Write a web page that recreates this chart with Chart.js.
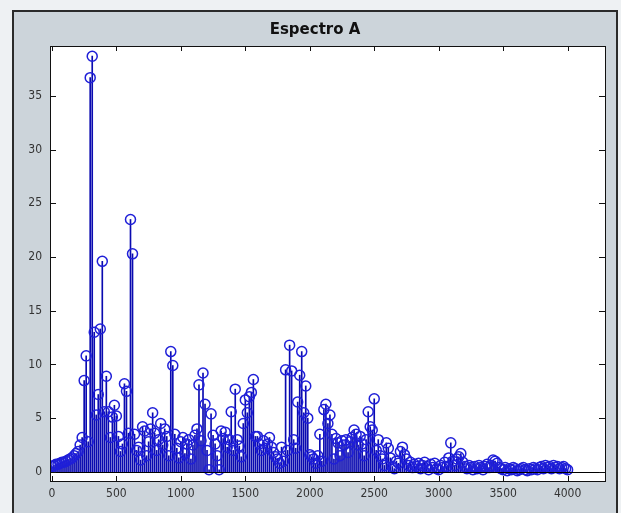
<!DOCTYPE html>
<html>
<head>
<meta charset="utf-8">
<script src="https://cdn.jsdelivr.net/npm/chart.js@4"></script>
<style>
  html, body { margin: 0; padding: 0; width: 621px; height: 513px; overflow: hidden; background: #eef1f3; }
  #frame {
    position: absolute; left: 12px; top: 10px;
    width: 602px; height: 503px;
    border: 2px solid #2a2a2a; border-bottom: none;
    background: #ccd4da;
  }
  #frame canvas { position: absolute; left: 0; top: 0; }
</style>
</head>
<body>
<div id="frame"><canvas id="spectrum" width="602" height="501"></canvas></div>
<script>
// spectrum bins, 0..4000 Hz
const binWidth = 15.625;
const amplitudes = [
  0.5, 0.6, 0.7, 0.7, 0.8, 0.9, 0.9, 1.0, 1.1, 1.2, 1.3, 1.5, 1.7, 1.9, 2.5, 3.2,
  8.5, 10.8, 2.8, 36.7, 38.7, 13.0, 5.3, 7.2, 13.3, 19.6, 5.6, 8.9, 5.6, 3.2, 5.1, 6.2,
  5.2, 3.3, 1.9, 2.6, 8.2, 7.5, 3.6, 23.5, 20.3, 3.5, 2.0, 2.3, 1.1, 4.2, 3.8, 1.5,
  2.8, 4.0, 5.5, 3.6, 2.0, 3.0, 4.5, 2.5, 4.0, 3.3, 1.5, 11.2, 9.9, 3.5, 2.2, 1.3,
  2.8, 3.2, 1.7, 2.6, 3.0, 1.2, 2.5, 3.4, 4.0, 8.1, 2.9, 9.2, 6.3, 2.0, 0.2, 5.4,
  3.4, 2.6, 1.5, 0.2, 3.8, 3.1, 3.7, 2.3, 3.0, 5.6, 2.0, 7.7, 3.0, 2.4, 1.4, 4.5,
  6.7, 5.5, 7.0, 7.4, 8.6, 3.3, 3.3, 2.6, 2.0, 2.9, 2.2, 2.6, 3.2, 2.3, 1.8, 1.4,
  1.2, 0.8, 2.3, 1.0, 9.5, 2.0, 11.8, 9.4, 3.0, 2.2, 6.5, 9.0, 11.2, 5.5, 8.0, 5.0,
  1.6, 1.4, 1.2, 0.8, 1.5, 3.5, 1.0, 5.8, 6.3, 4.5, 5.3, 3.5, 1.2, 3.1, 2.7, 1.5,
  2.9, 2.5, 3.0, 1.8, 2.8, 3.2, 3.9, 3.5, 2.5, 3.3, 2.6, 1.5, 3.0, 5.6, 4.2, 3.9,
  6.8, 2.0, 3.0, 1.5, 1.2, 0.6, 2.7, 2.2, 1.3, 0.5, 0.3, 1.0, 0.8, 1.9, 2.3, 1.6,
  1.2, 0.6, 0.9, 0.4, 0.7, 0.5, 0.8, 0.3, 0.6, 0.9, 0.5, 0.2, 0.7, 0.4, 0.8, 0.3,
  0.2, 0.6, 0.4, 0.9, 0.5, 1.3, 2.7, 1.0, 0.6, 1.2, 1.4, 1.7, 0.9, 0.5, 0.3, 0.6,
  0.4, 0.2, 0.5, 0.3, 0.6, 0.4, 0.2, 0.5, 0.7, 0.4, 0.6, 1.1, 1.0, 0.8, 0.4, 0.3,
  0.2, 0.4, 0.1, 0.3, 0.2, 0.4, 0.3, 0.1, 0.2, 0.3, 0.4, 0.2, 0.1, 0.3, 0.2, 0.4,
  0.3, 0.2, 0.4, 0.5, 0.3, 0.6, 0.4, 0.5, 0.3, 0.6, 0.4, 0.5, 0.3, 0.4, 0.5, 0.3,
  0.2
];
const xTicks = [0, 500, 1000, 1500, 2000, 2500, 3000, 3500, 4000];
const yTicks = [0, 5, 10, 15, 20, 25, 30, 35];

const points = amplitudes.map((a, i) => ({ x: i * binWidth, y: a }));

const tickFont = { family: "'Liberation Sans Narrow', 'DejaVu Sans Condensed', sans-serif", size: 12 };

// white plot box, zero baseline, box outline and inward ticks like matlab
const axesBox = {
  id: "axesBox",
  beforeDraw(chart) {
    const { ctx, chartArea: a } = chart;
    ctx.save();
    ctx.fillStyle = "#fff";
    ctx.fillRect(a.left, a.top, a.right - a.left, a.bottom - a.top);
    ctx.restore();
  },
  afterDatasetsDraw(chart) {
    const { ctx, chartArea: a, scales } = chart;
    const y0 = Math.round(scales.y.getPixelForValue(0)) + 0.5;
    ctx.save();
    ctx.strokeStyle = "#000";
    ctx.lineWidth = 1;
    ctx.beginPath();
    ctx.moveTo(a.left, y0);
    ctx.lineTo(a.right, y0);
    ctx.stroke();
    ctx.restore();
  },
  afterDraw(chart) {
    const { ctx, chartArea: a, scales } = chart;
    ctx.save();
    ctx.strokeStyle = "#111";
    ctx.lineWidth = 1;
    ctx.strokeRect(Math.round(a.left) + 0.5, Math.round(a.top) + 0.5,
      Math.round(a.right - a.left), Math.round(a.bottom - a.top));
    ctx.beginPath();
    xTicks.forEach(v => {
      const px = Math.round(scales.x.getPixelForValue(v)) + 0.5;
      ctx.moveTo(px, a.bottom); ctx.lineTo(px, a.bottom - 5);
      ctx.moveTo(px, a.top); ctx.lineTo(px, a.top + 5);
    });
    yTicks.forEach(v => {
      const py = Math.round(scales.y.getPixelForValue(v)) + 0.5;
      ctx.moveTo(a.left, py); ctx.lineTo(a.left + 6, py);
      ctx.moveTo(a.right, py); ctx.lineTo(a.right - 6, py);
    });
    ctx.stroke();
    ctx.restore();
  }
};

new Chart(document.getElementById("spectrum"), {
  type: "bar",
  data: {
    datasets: [
      {
        type: "line",
        data: points,
        showLine: false,
        pointStyle: "circle",
        pointRadius: 5,
        pointBorderWidth: 1.5,
        pointBorderColor: "#1f1fd8",
        pointBackgroundColor: "rgba(0,0,0,0)",
        order: 0
      },
      {
        type: "bar",
        data: points,
        backgroundColor: "#0a0ab0",
        barThickness: 1,
        grouped: false,
        order: 1
      }
    ]
  },
  plugins: [axesBox],
  options: {
    responsive: false,
    animation: false,
    layout: { padding: { left: 0, right: 0, top: 0, bottom: 0 } },
    plugins: {
      legend: { display: false },
      tooltip: { enabled: false },
      title: {
        display: true,
        text: "Espectro A",
        color: "#111",
        font: { family: "'DejaVu Sans', sans-serif", size: 15, weight: "bold", lineHeight: 1.2 },
        padding: { top: 9, bottom: 7 }
      }
    },
    scales: {
      x: {
        type: "linear",
        offset: false,
        min: -15,
        max: 4290,
        grid: { display: false, drawTicks: false, offset: false },
        border: { display: false },
        afterBuildTicks: s => { s.ticks = xTicks.map(v => ({ value: v })); },
        afterFit: s => { s.height = 32; },
        ticks: {
          maxRotation: 0,
          autoSkip: false,
          padding: 6,
          color: "#333",
          font: tickFont,
          callback: v => String(v)
        }
      },
      y: {
        min: -0.85,
        max: 39.65,
        grid: { display: false, drawTicks: false },
        border: { display: false },
        afterBuildTicks: s => { s.ticks = yTicks.map(v => ({ value: v })); },
        afterFit: s => { s.width = 36; },
        ticks: {
          padding: 8,
          color: "#333",
          font: tickFont,
          callback: v => String(v)
        }
      },
      yRight: {
        position: "right",
        display: true,
        grid: { display: false, drawTicks: false },
        border: { display: false },
        ticks: { display: false },
        afterFit: s => { s.width = 11; }
      }
    }
  }
});
</script>
</body>
</html>
